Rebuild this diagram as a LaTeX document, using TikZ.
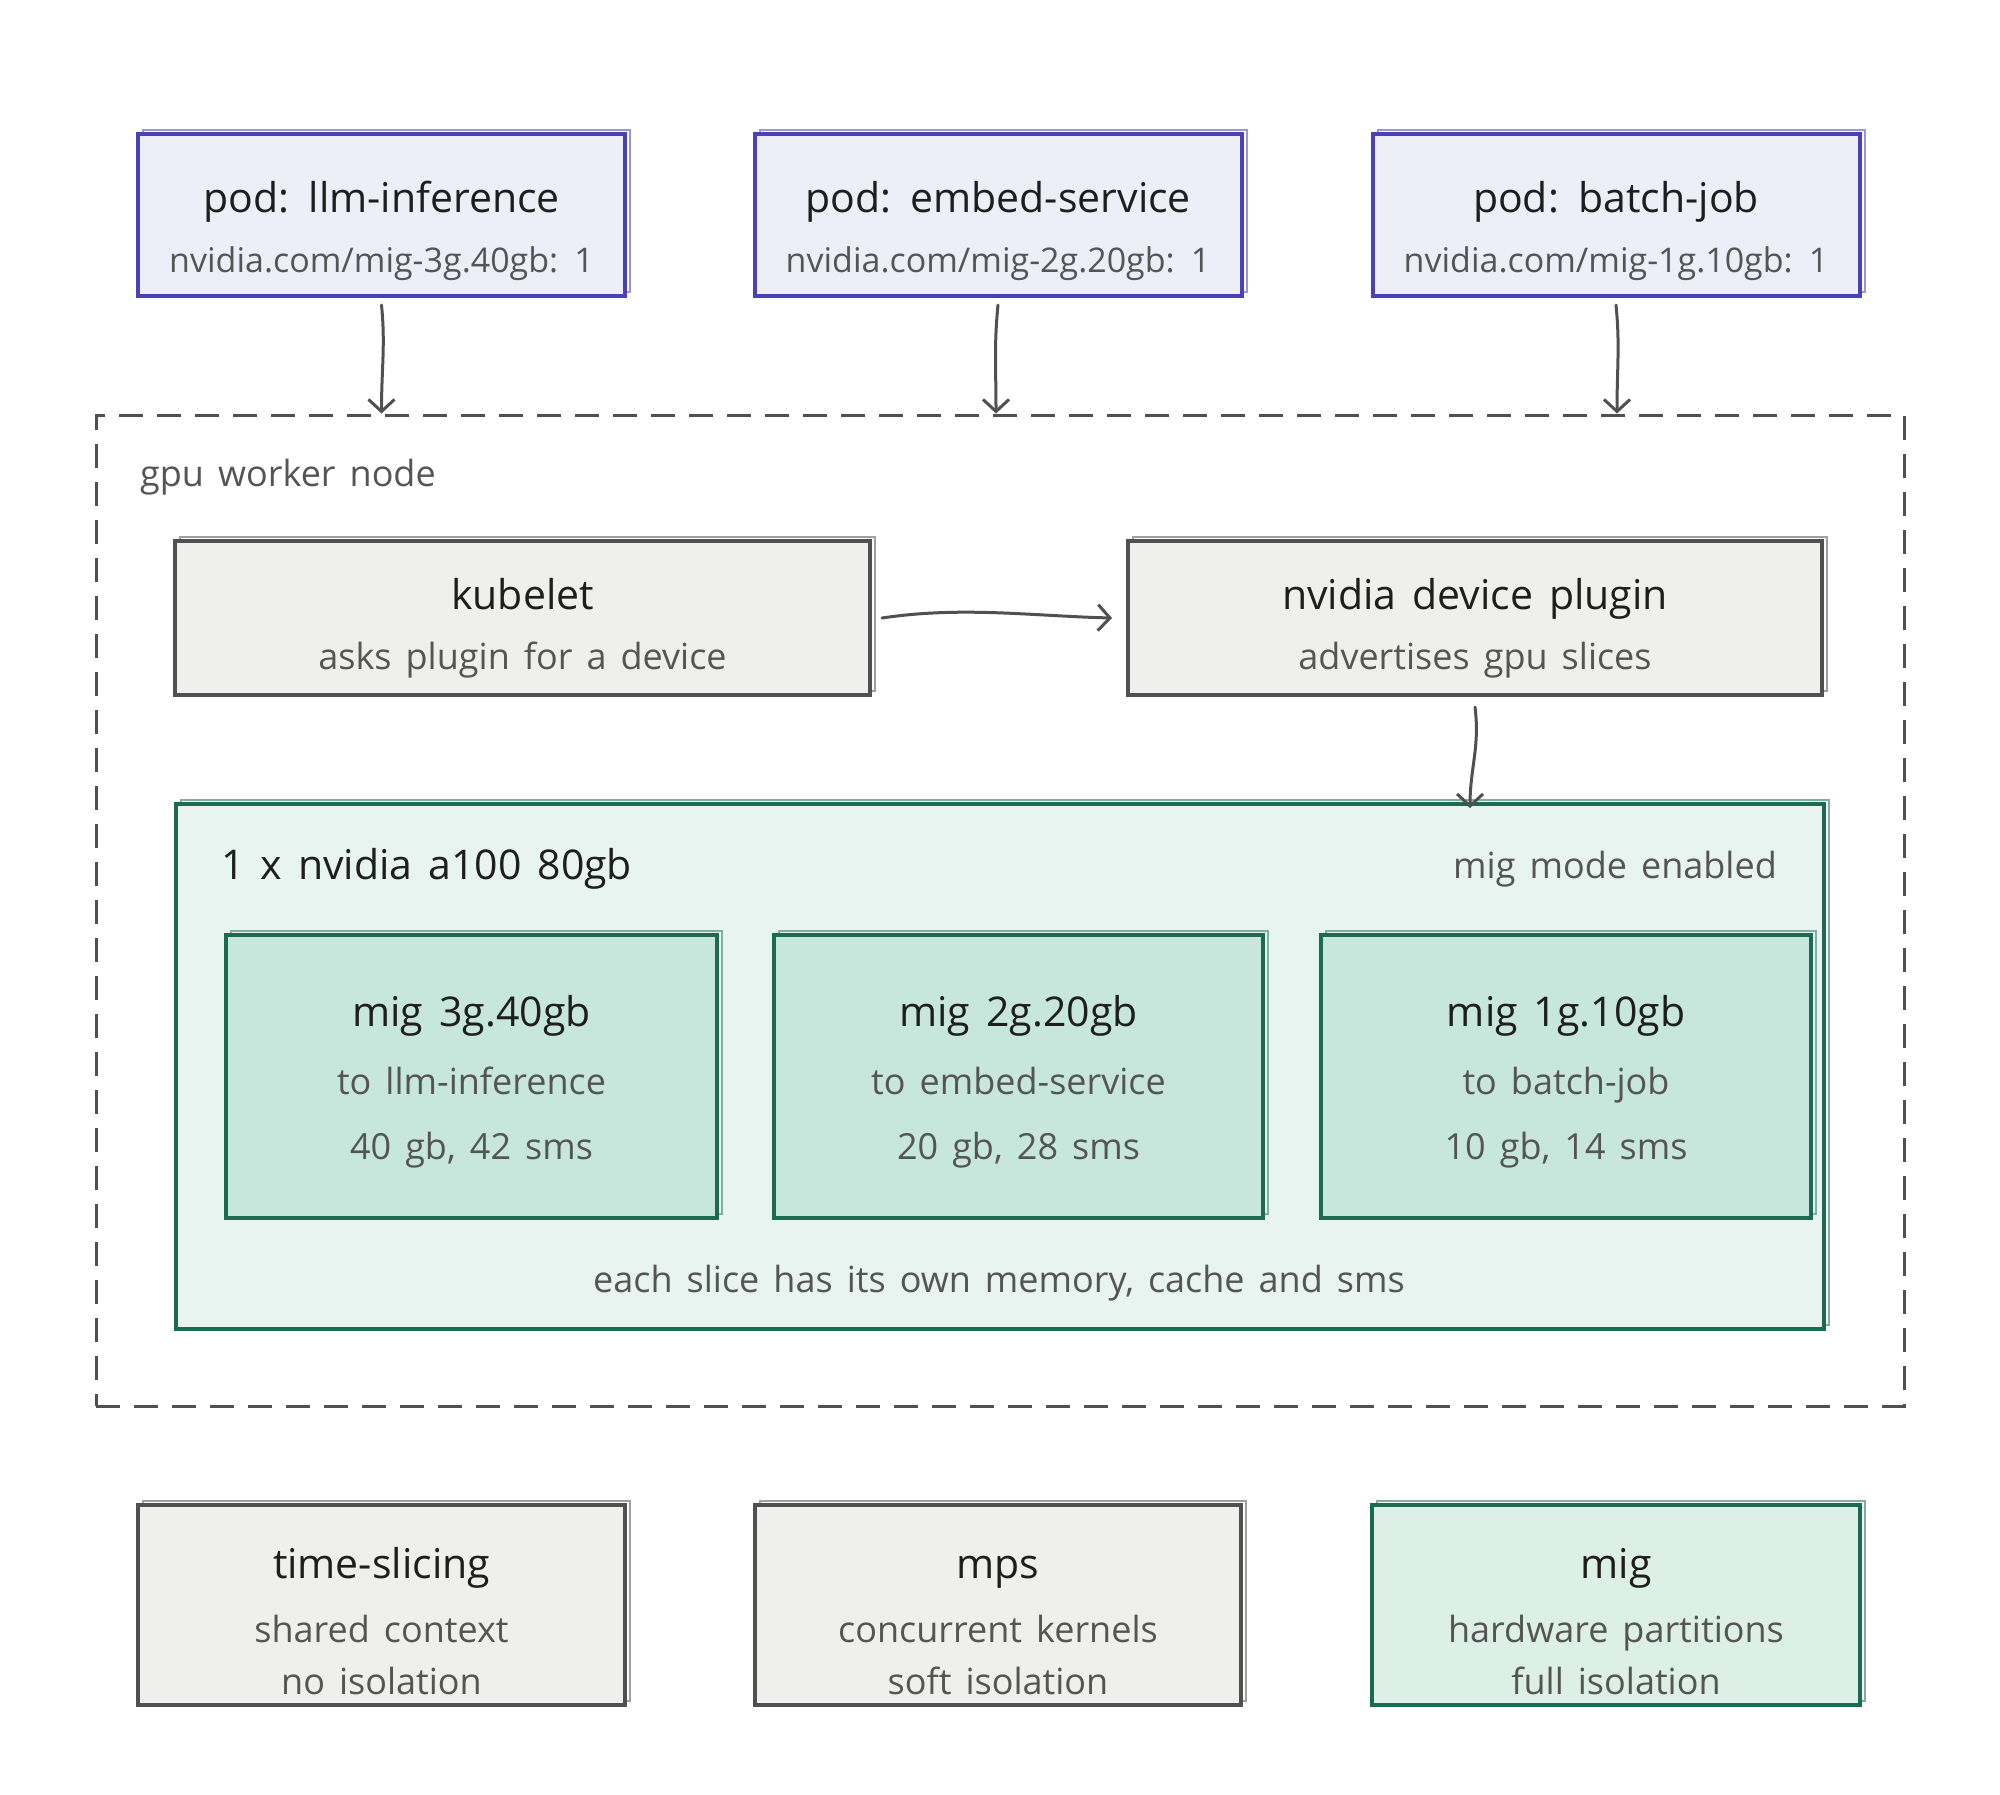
\documentclass[tikz,border=0pt]{standalone}
\usepackage{fontspec}
\setmainfont{Open Sans}[WordSpace=1.5]
\usetikzlibrary{arrows.meta}
\definecolor{podstroke}{HTML}{4A40B8}
\definecolor{podfill}{HTML}{EEEEF9}
\definecolor{graystroke}{HTML}{505050}
\definecolor{grayfill}{HTML}{EFEFEE}
\definecolor{greenstroke}{HTML}{1A6B52}
\definecolor{gpufill}{HTML}{E8F4EF}
\definecolor{slicefill}{HTML}{C8E7DC}
\definecolor{migfill}{HTML}{DDF0E8}
\definecolor{titlec}{HTML}{1E1E1E}
\definecolor{subc}{HTML}{555555}
\newcommand{\ttlf}[1]{{\color{titlec}\fontsize{41}{60}\selectfont #1}}
\newcommand{\subf}[1]{{\color{subc}\fontsize{36}{60}\selectfont #1}}
\newcommand{\podsubf}[1]{{\color{subc}\fontsize{34}{60}\selectfont #1}}
\tikzset{
  sketchbox/.style 2 args={draw=#1, fill=#2, line width=4pt, inner sep=0pt,
    preaction={draw=#1!55, line width=2pt, transform canvas={shift={(5pt,4pt)}}}},
  podbox/.style={sketchbox={podstroke}{podfill}, minimum width=487pt, minimum height=162pt},
  graybox/.style={sketchbox={graystroke}{grayfill}},
  greenbox/.style={sketchbox={greenstroke}{#1}},
  txt/.style={align=center, inner sep=0pt, font=\fontsize{36}{60}\selectfont},
  arr/.style={draw=graystroke, line width=3pt, line cap=round,
    -{Straight Barb[length=12pt,width=26pt,line width=3pt]}},
  lbl/.style={inner sep=0pt},
}
\begin{document}
\begin{tikzpicture}[x=1pt,y=-1pt]
\useasboundingbox[fill=white] (0,0) rectangle (2000,1794);

% pods
\node[podbox] (pod1) at (381.5,215) {};
\node[podbox] (pod2) at (998,215) {};
\node[podbox] (pod3) at (1616,215) {};
\node[txt] (pod1t) at ([yshift=-16pt]pod1.center) {\ttlf{pod: llm-inference}\\\podsubf{nvidia.com/mig-3g.40gb: 1}};
\node[txt] (pod2t) at ([yshift=-16pt]pod2.center) {\ttlf{pod: embed-service}\\\podsubf{nvidia.com/mig-2g.20gb: 1}};
\node[txt] (pod3t) at ([yshift=-16pt]pod3.center) {\ttlf{pod: batch-job}\\\podsubf{nvidia.com/mig-1g.10gb: 1}};

% worker node container
\node[draw=graystroke, line width=3pt, dash pattern=on 24pt off 14pt,
      minimum width=1808pt, minimum height=991pt, inner sep=0pt] (worker) at (1000,910.5) {};
\node[lbl, anchor=west] (wlabel) at (140,477) {\subf{gpu worker node}};

% kubelet & plugin
\node[graybox, minimum width=695pt, minimum height=154pt] (kubelet) at (522.5,618) {};
\node[graybox, minimum width=694pt, minimum height=154pt] (plugin) at (1475,618) {};
\node[txt] (kubelett) at ([yshift=-10pt]kubelet.center) {\ttlf{kubelet}\\\subf{asks plugin for a device}};
\node[txt] (plugint) at ([yshift=-10pt]plugin.center) {\ttlf{nvidia device plugin}\\\subf{advertises gpu slices}};

% gpu
\node[greenbox=gpufill, minimum width=1648pt, minimum height=525pt] (gpu) at (1000,1066.5) {};
\node[lbl, anchor=west] (gputitle) at (221,869) {\ttlf{1 x nvidia a100 80gb}};
\node[lbl, anchor=east] (migmode) at (1777,869) {\subf{mig mode enabled}};

\node[greenbox=slicefill, minimum width=491pt, minimum height=283pt] (s1) at (471.5,1076.5) {};
\node[greenbox=slicefill, minimum width=489pt, minimum height=283pt] (s2) at (1018.5,1076.5) {};
\node[greenbox=slicefill, minimum width=490pt, minimum height=283pt] (s3) at (1566,1076.5) {};
\node[txt] (s1t) at ([yshift=-5pt]s1.center)
  {\ttlf{mig 3g.40gb}\\[8pt]\subf{to llm-inference}\\[5pt]\subf{40 gb, 42 sms}};
\node[txt] (s2t) at ([yshift=-5pt]s2.center)
  {\ttlf{mig 2g.20gb}\\[8pt]\subf{to embed-service}\\[5pt]\subf{20 gb, 28 sms}};
\node[txt] (s3t) at ([yshift=-5pt]s3.center)
  {\ttlf{mig 1g.10gb}\\[8pt]\subf{to batch-job}\\[5pt]\subf{10 gb, 14 sms}};
\node[lbl] (note) at (999,1283) {\subf{each slice has its own memory, cache and sms}};

% bottom comparison
\node[graybox, minimum width=487pt, minimum height=200pt] (ts) at (381.5,1605) {};
\node[graybox, minimum width=486pt, minimum height=200pt] (mps) at (998,1605) {};
\node[greenbox=migfill, minimum width=488pt, minimum height=200pt] (mig) at (1616,1605) {};
\node[txt] (tst) at ([yshift=-16pt]ts.center)
  {\ttlf{time-slicing}\\[4pt]\subf{shared context}\\[-8pt]\subf{no isolation}};
\node[txt] (mpst) at ([yshift=-16pt]mps.center)
  {\ttlf{\vphantom{l}mps}\\[4pt]\subf{concurrent kernels}\\[-8pt]\subf{soft isolation}};
\node[txt] (migt) at ([yshift=-16pt]mig.center)
  {\ttlf{\vphantom{l}mig}\\[4pt]\subf{hardware partitions}\\[-8pt]\subf{full isolation}};

% connectors
\coordinate (e1) at (pod1.south |- worker.north);
\coordinate (e2) at ([xshift=-2pt]pod2.south |- worker.north);
\coordinate (e3) at ([xshift=1pt]pod3.south |- worker.north);
\draw[arr] ([yshift=-7pt]pod1.south) .. controls +(4,40) and +(0,-45) .. (e1);
\draw[arr] ([yshift=-7pt]pod2.south) .. controls +(-4,40) and +(0,-45) .. (e2);
\draw[arr] ([yshift=-7pt]pod3.south) .. controls +(4,40) and +(0,-45) .. (e3);
\draw[arr] ([xshift=10pt]kubelet.east) .. controls +(80,-12) and +(-80,-2) .. ([xshift=-14pt]plugin.west);
\coordinate (gtop) at ([xshift=-5pt]plugin.south |- gpu.north);
\draw[arr] ([yshift=-10pt]plugin.south) .. controls +(5,40) and +(0,-40) .. ([yshift=-6pt]gtop);
\end{tikzpicture}
\end{document}
